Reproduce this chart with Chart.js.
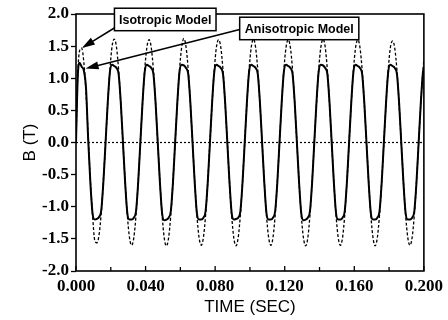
<!DOCTYPE html>
<html>
<head>
<meta charset="utf-8">
<script src="https://cdn.jsdelivr.net/npm/chart.js@4.4.1/dist/chart.umd.min.js"></script>
<style>
html, body { margin: 0; padding: 0; background: #fff; }
#wrap { width: 448px; height: 320px; }
</style>
</head>
<body>
<div id="wrap"><canvas id="b-field-chart"></canvas></div>
<script>
// time axis (s), one row per 20 ms cycle
const timeSec = [
    0, 0.001, 0.002, 0.00325, 0.0045, 0.00575, 0.007, 0.00825, 0.0095, 0.01075, 0.012, 0.01325, 0.0145, 0.01575, 0.017, 0.01825, 0.0195, 0.02075,
    0.022, 0.02325, 0.0245, 0.02575, 0.027, 0.02825, 0.0295, 0.03075, 0.032, 0.03325, 0.0345, 0.03575, 0.037, 0.03825, 0.0395, 0.04075,
    0.042, 0.04325, 0.0445, 0.04575, 0.047, 0.04825, 0.0495, 0.05075, 0.052, 0.05325, 0.0545, 0.05575, 0.057, 0.05825, 0.0595, 0.06075,
    0.062, 0.06325, 0.0645, 0.06575, 0.067, 0.06825, 0.0695, 0.07075, 0.072, 0.07325, 0.0745, 0.07575, 0.077, 0.07825, 0.0795, 0.08075,
    0.082, 0.08325, 0.0845, 0.08575, 0.087, 0.08825, 0.0895, 0.09075, 0.092, 0.09325, 0.0945, 0.09575, 0.097, 0.09825, 0.0995, 0.10075,
    0.102, 0.10325, 0.1045, 0.10575, 0.107, 0.10825, 0.1095, 0.11075, 0.112, 0.11325, 0.1145, 0.11575, 0.117, 0.11825, 0.1195, 0.12075,
    0.122, 0.12325, 0.1245, 0.12575, 0.127, 0.12825, 0.1295, 0.13075, 0.132, 0.13325, 0.1345, 0.13575, 0.137, 0.13825, 0.1395, 0.14075,
    0.142, 0.14325, 0.1445, 0.14575, 0.147, 0.14825, 0.1495, 0.15075, 0.152, 0.15325, 0.1545, 0.15575, 0.157, 0.15825, 0.1595, 0.16075,
    0.162, 0.16325, 0.1645, 0.16575, 0.167, 0.16825, 0.1695, 0.17075, 0.172, 0.17325, 0.1745, 0.17575, 0.177, 0.17825, 0.1795, 0.18075,
    0.182, 0.18325, 0.1845, 0.18575, 0.187, 0.18825, 0.1895, 0.19075, 0.192, 0.19325, 0.1945, 0.19575, 0.197, 0.19825, 0.1995, 0.2
]

// B (T), isotropic model (dashed)
const isotropicB = [
    0.00, 1.05, 1.42, 1.47, 1.25, 0.78, 0.10, -0.58, -1.12, -1.52, -1.56, -1.44, -1.10, -0.60, 0.00, 0.61, 1.13, 1.50,
    1.61, 1.49, 1.13, 0.61, 0.00, -0.61, -1.13, -1.48, -1.60, -1.48, -1.13, -0.61, 0.00, 0.61, 1.13, 1.48,
    1.60, 1.48, 1.13, 0.61, 0.00, -0.61, -1.13, -1.49, -1.61, -1.48, -1.13, -0.61, 0.00, 0.61, 1.13, 1.48,
    1.62, 1.49, 1.14, 0.61, 0.00, -0.61, -1.13, -1.48, -1.60, -1.48, -1.13, -0.61, 0.00, 0.61, 1.13, 1.49,
    1.60, 1.48, 1.13, 0.61, 0.00, -0.61, -1.14, -1.49, -1.61, -1.48, -1.13, -0.61, 0.00, 0.61, 1.13, 1.48,
    1.61, 1.48, 1.13, 0.61, 0.00, -0.61, -1.13, -1.48, -1.60, -1.48, -1.13, -0.61, 0.00, 0.61, 1.13, 1.48,
    1.60, 1.48, 1.13, 0.61, 0.00, -0.61, -1.13, -1.48, -1.61, -1.49, -1.13, -0.61, 0.00, 0.61, 1.13, 1.48,
    1.61, 1.49, 1.13, 0.61, 0.00, -0.61, -1.13, -1.48, -1.60, -1.48, -1.13, -0.61, 0.00, 0.61, 1.13, 1.48,
    1.60, 1.48, 1.13, 0.61, 0.00, -0.61, -1.13, -1.48, -1.61, -1.48, -1.13, -0.61, 0.00, 0.61, 1.13, 1.48,
    1.58, 1.47, 1.13, 0.61, 0.00, -0.61, -1.13, -1.48, -1.60, -1.48, -1.13, -0.61, 0.00, 0.61, 1.13, 1.29
]

// B (T), anisotropic model (solid)
const anisotropicB = [
    0.00, 1.02, 1.24, 1.18, 1.12, 0.85, 0.05, -0.62, -1.10, -1.20, -1.19, -1.16, -1.06, -0.61, 0.00, 0.62, 1.10, 1.21,
    1.19, 1.16, 1.07, 0.62, 0.00, -0.62, -1.10, -1.20, -1.20, -1.17, -1.07, -0.62, 0.00, 0.62, 1.10, 1.21,
    1.19, 1.16, 1.07, 0.62, 0.00, -0.62, -1.10, -1.21, -1.20, -1.17, -1.07, -0.62, 0.00, 0.62, 1.10, 1.21,
    1.20, 1.16, 1.07, 0.62, 0.00, -0.62, -1.10, -1.20, -1.20, -1.17, -1.07, -0.62, 0.00, 0.62, 1.10, 1.21,
    1.19, 1.16, 1.07, 0.62, 0.00, -0.62, -1.10, -1.20, -1.19, -1.17, -1.07, -0.62, 0.00, 0.62, 1.10, 1.21,
    1.19, 1.16, 1.07, 0.62, 0.00, -0.62, -1.10, -1.20, -1.20, -1.17, -1.07, -0.62, 0.00, 0.62, 1.10, 1.21,
    1.19, 1.16, 1.07, 0.62, 0.00, -0.62, -1.10, -1.21, -1.20, -1.17, -1.07, -0.62, 0.00, 0.62, 1.10, 1.21,
    1.20, 1.16, 1.07, 0.62, 0.00, -0.62, -1.10, -1.20, -1.20, -1.17, -1.07, -0.62, 0.00, 0.62, 1.10, 1.21,
    1.19, 1.16, 1.07, 0.62, 0.00, -0.62, -1.10, -1.20, -1.20, -1.17, -1.07, -0.62, 0.00, 0.62, 1.10, 1.21,
    1.19, 1.16, 1.07, 0.62, 0.00, -0.62, -1.10, -1.20, -1.20, -1.17, -1.07, -0.62, 0.00, 0.62, 1.10, 1.16
]

const xTickValues = [0, 0.04, 0.08, 0.12, 0.16, 0.2]
const xTickLabels = ["0.000", "0.040", "0.080", "0.120", "0.160", "0.200"]
const yTickValues = [-2, -1.5, -1, -0.5, 0, 0.5, 1, 1.5, 2]
const yTickLabels = ["-2.0", "-1.5", "-1.0", "-0.5", "0.0", "0.5", "1.0", "1.5", "2.0"]

// callout boxes, in data units: box [x0, yTop, x1, yBottom], arrow tail -> tip
const callouts = [
    { text: "Isotropic Model", box: [0.0221, 2.09, 0.0805, 1.74], tail: [0.0225, 1.79], tip: [0.0034, 1.47] },
    { text: "Anisotropic Model", box: [0.0941, 1.95, 0.1626, 1.6], tail: [0.0941, 1.76], tip: [0.0055, 1.15] }
]

function toPoints(xs, ys) {
    return xs.map((x, i) => ({ x: x, y: ys[i] }))
}

function whiteBackgroundPlugin() {
    return {
        id: "whiteBackground",
        beforeDraw: (chart) => {
            const { ctx, canvas } = chart
            ctx.save()
            ctx.globalCompositeOperation = "destination-over"
            ctx.fillStyle = "white"
            ctx.fillRect(0, 0, canvas.width, canvas.height)
            ctx.restore()
        }
    }
}

function drawArrow(ctx, x1, y1, x2, y2) {
    const ang = Math.atan2(y2 - y1, x2 - x1)
    const len = 13, half = 4
    ctx.beginPath()
    ctx.moveTo(x1, y1)
    ctx.lineTo(x2 - len * 0.6 * Math.cos(ang), y2 - len * 0.6 * Math.sin(ang))
    ctx.stroke()
    ctx.beginPath()
    ctx.moveTo(x2, y2)
    ctx.lineTo(x2 - len * Math.cos(ang) + half * Math.sin(ang), y2 - len * Math.sin(ang) - half * Math.cos(ang))
    ctx.lineTo(x2 - len * Math.cos(ang) - half * Math.sin(ang), y2 - len * Math.sin(ang) + half * Math.cos(ang))
    ctx.closePath()
    ctx.fill()
}

function framePlugin() {
    return {
        id: "frame",
        beforeDatasetsDraw: (chart) => {
            const { ctx, chartArea: a, scales } = chart
            const y0 = scales.y.getPixelForValue(0)
            ctx.save()
            ctx.strokeStyle = "#000"
            ctx.lineWidth = 1.2
            ctx.setLineDash([2, 2])
            ctx.beginPath()
            ctx.moveTo(a.left, y0)
            ctx.lineTo(a.right, y0)
            ctx.stroke()
            ctx.restore()
        },
        afterDatasetsDraw: (chart) => {
            const { ctx, chartArea: a, scales } = chart
            ctx.save()
            ctx.strokeStyle = "#000"
            ctx.lineWidth = 1.6
            ctx.strokeRect(a.left, a.top, a.right - a.left, a.bottom - a.top)

            // inward ticks on the time axis, minor ones half way
            ctx.lineWidth = 1.3
            const xs = scales.x
            xs.ticks.forEach((t, i) => {
                const px = xs.getPixelForValue(t.value)
                ctx.beginPath()
                ctx.moveTo(px, a.bottom)
                ctx.lineTo(px, a.bottom - 5)
                ctx.stroke()
                if (i < xs.ticks.length - 1) {
                    const mid = xs.getPixelForValue((t.value + xs.ticks[i + 1].value) / 2)
                    ctx.beginPath()
                    ctx.moveTo(mid, a.bottom)
                    ctx.lineTo(mid, a.bottom - 4)
                    ctx.stroke()
                }
            })

            // callout boxes with arrows
            ctx.font = "bold 12.5px 'Liberation Sans', Arial, sans-serif"
            ctx.textAlign = "center"
            ctx.textBaseline = "middle"
            ctx.fillStyle = "#000"
            callouts.forEach(c => {
                const x0 = xs.getPixelForValue(c.box[0])
                const y0 = scales.y.getPixelForValue(c.box[1])
                const x1 = xs.getPixelForValue(c.box[2])
                const y1 = scales.y.getPixelForValue(c.box[3])
                ctx.lineWidth = 1.5
                drawArrow(ctx,
                    xs.getPixelForValue(c.tail[0]), scales.y.getPixelForValue(c.tail[1]),
                    xs.getPixelForValue(c.tip[0]), scales.y.getPixelForValue(c.tip[1]))
                ctx.fillStyle = "#fff"
                ctx.fillRect(x0, y0, x1 - x0, y1 - y0)
                ctx.strokeRect(x0, y0, x1 - x0, y1 - y0)
                ctx.fillStyle = "#000"
                ctx.fillText(c.text, (x0 + x1) / 2, (y0 + y1) / 2 + 1)
            })
            ctx.restore()
        }
    }
}

const tickFont = { family: "'Liberation Serif', 'Times New Roman', serif", size: 17, weight: "bold" }
const titleFont = { family: "'Liberation Sans', Arial, sans-serif", size: 17 }

new Chart(document.getElementById("b-field-chart").getContext("2d"), {
    type: "line",
    data: {
        datasets: [
            {
                label: "Isotropic Model",
                data: toPoints(timeSec, isotropicB),
                borderColor: "#000",
                borderWidth: 1.3,
                borderDash: [3, 2],
                pointRadius: 0,
                cubicInterpolationMode: "monotone"
            },
            {
                label: "Anisotropic Model",
                data: toPoints(timeSec, anisotropicB),
                borderColor: "#000",
                borderWidth: 2,
                pointRadius: 0,
                cubicInterpolationMode: "monotone"
            }
        ]
    },
    options: {
        responsive: true,
        maintainAspectRatio: false,
        devicePixelRatio: 1,
        animation: false,
        layout: { padding: { left: 16, right: 19, top: 14, bottom: 2 } },
        plugins: {
            legend: { display: false },
            tooltip: { enabled: false }
        },
        scales: {
            x: {
                type: "linear",
                min: 0,
                max: 0.2,
                afterBuildTicks: (scale) => { scale.ticks = xTickValues.map(v => ({ value: v })) },
                afterFit: (scale) => { scale.height = 47 },
                ticks: {
                    color: "#000",
                    font: tickFont,
                    padding: 5,
                    maxRotation: 0,
                    autoSkip: false,
                    callback: (v, i) => xTickLabels[i]
                },
                grid: { display: false, drawTicks: false },
                border: { display: false },
                title: { display: true, text: "TIME (SEC)", color: "#000", font: titleFont, padding: { top: 2, bottom: 0 } }
            },
            y: {
                min: -2,
                max: 2,
                afterBuildTicks: (scale) => { scale.ticks = yTickValues.map(v => ({ value: v })) },
                afterFit: (scale) => { scale.width = 60 },
                ticks: {
                    color: "#000",
                    font: tickFont,
                    padding: 2,
                    autoSkip: false,
                    callback: (v, i) => yTickLabels[i]
                },
                grid: { drawOnChartArea: false, drawTicks: true, tickLength: 5, tickColor: "#000", tickWidth: 1.3 },
                border: { display: false },
                title: { display: true, text: "B (T)", color: "#000", font: titleFont, padding: { top: 4, bottom: 4 } }
            }
        }
    },
    plugins: [whiteBackgroundPlugin(), framePlugin()]
})
</script>
</body>
</html>
